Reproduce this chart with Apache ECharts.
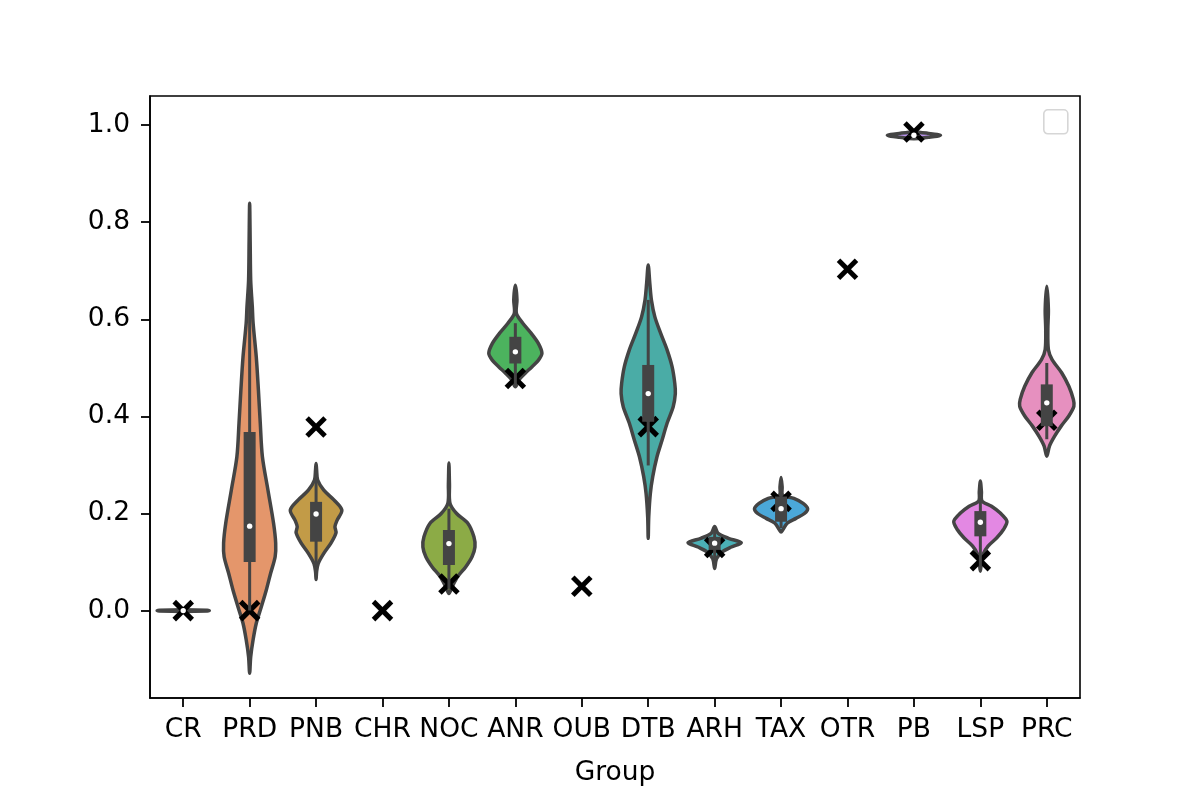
<!DOCTYPE html>
<html>
<head>
<meta charset="utf-8">
<title>violin</title>
<script src="https://cdn.jsdelivr.net/npm/echarts@6/dist/echarts.min.js"></script>
<style>
  html, body { margin: 0; padding: 0; background: #fff; }
  #chart { width: 1200px; height: 800px; }
</style>
</head>
<body>
<div id="chart"></div>
<script>
// categories
const groups = ['CR', 'PRD', 'PNB', 'CHR', 'NOC', 'ANR', 'OUB', 'DTB', 'ARH', 'TAX', 'OTR', 'PB', 'LSP', 'PRC']

// X markers (one per group)
const markerValues = [0.0, 0.0, 0.378, 0.0, 0.055, 0.478, 0.05, 0.379, 0.13, 0.225, 0.703, 0.986, 0.103, 0.392]

// inner box stats, null = no violin
const whiskerLow = [0, 0.0, 0.09, null, 0.045, 0.465, null, 0.299, 0.10, 0.17, null, 0.978, 0.085, 0.353]
const q1 = [0, 0.100, 0.142, null, 0.094, 0.509, null, 0.389, 0.125, 0.183, null, 0.9785, 0.153, 0.38]
const medians = [0, 0.174, 0.199, null, 0.138, 0.533, null, 0.447, 0.139, 0.210, null, 0.979, 0.182, 0.428]
const q3 = [0, 0.368, 0.224, null, 0.166, 0.564, null, 0.506, 0.152, 0.235, null, 0.9795, 0.205, 0.466]
const whiskerHigh = [0, 0.70, 0.27, null, 0.21, 0.592, null, 0.64, 0.165, 0.255, null, 0.981, 0.23, 0.51]

// violin outlines: [value, relative density]
const violinCR = [[-0.002, 0], [-0.001, 0.9], [0, 0.98], [0.001, 0.9], [0.002, 0]]
const violinPRD = [[-0.129, 0], [-0.095, 0.04], [-0.06, 0.13], [-0.026, 0.25], [0.008, 0.44], [0.043, 0.63], [0.077, 0.79], [0.111, 0.96], [0.139, 0.98], [0.18, 0.9], [0.248, 0.69], [0.317, 0.48], [0.386, 0.4], [0.454, 0.33], [0.522, 0.25], [0.592, 0.13], [0.626, 0.1], [0.68, 0.04], [0.76, 0.02], [0.839, 0]]
const violinPNB = [[0.064, 0], [0.08, 0.02], [0.097, 0.08], [0.118, 0.29], [0.139, 0.56], [0.16, 0.75], [0.173, 0.71], [0.186, 0.79], [0.207, 0.97], [0.228, 0.67], [0.248, 0.29], [0.269, 0.06], [0.29, 0.02], [0.303, 0]]
const violinNOC = [[0.035, 0], [0.049, 0.12], [0.07, 0.33], [0.09, 0.63], [0.111, 0.87], [0.131, 0.98], [0.152, 0.94], [0.18, 0.71], [0.2, 0.29], [0.221, 0.04], [0.26, 0.02], [0.304, 0]]
const violinANR = [[0.461, 0], [0.475, 0.13], [0.489, 0.37], [0.502, 0.62], [0.516, 0.87], [0.53, 1.0], [0.55, 0.87], [0.571, 0.6], [0.592, 0.28], [0.612, 0.04], [0.64, 0.06], [0.67, 0]]
const violinDTB = [[0.149, 0], [0.193, 0.02], [0.241, 0.08], [0.276, 0.17], [0.317, 0.33], [0.351, 0.52], [0.386, 0.71], [0.42, 0.94], [0.447, 1.02], [0.468, 1.0], [0.502, 0.9], [0.537, 0.71], [0.571, 0.47], [0.605, 0.25], [0.64, 0.12], [0.674, 0.06], [0.712, 0]]
const violinARH = [[0.087, 0], [0.107, 0.07], [0.121, 0.29], [0.131, 0.63], [0.14, 1.0], [0.149, 0.52], [0.159, 0.13], [0.173, 0]]
const violinTAX = [[0.162, 0], [0.166, 0.06], [0.18, 0.23], [0.19, 0.56], [0.2, 0.88], [0.21, 1.0], [0.221, 0.83], [0.231, 0.48], [0.238, 0.06], [0.255, 0.04], [0.274, 0]]
const violinPB = [[0.972, 0], [0.975, 0.55], [0.979, 1.0], [0.983, 0.55], [0.986, 0]]
const violinLSP = [[0.081, 0], [0.1, 0.04], [0.116, 0.1], [0.133, 0.29], [0.15, 0.62], [0.167, 0.87], [0.184, 1.0], [0.201, 0.75], [0.215, 0.42], [0.226, 0.06], [0.245, 0.04], [0.267, 0]]
const violinPRC = [[0.318, 0], [0.339, 0.1], [0.359, 0.29], [0.38, 0.54], [0.401, 0.83], [0.421, 1.02], [0.435, 1.0], [0.462, 0.83], [0.49, 0.56], [0.517, 0.2], [0.538, 0.06], [0.58, 0.04], [0.62, 0.06], [0.668, 0]]

const violins = [violinCR, violinPRD, violinPNB, null, violinNOC, violinANR, null, violinDTB, violinARH, violinTAX, null, violinPB, violinLSP, violinPRC]

// y tick labels
const yTicks = [0.0, 0.2, 0.4, 0.6, 0.8, 1.0]

const colors = ['#e3868f', '#e4966b', '#c29b47', '#a8a446', '#8cab46', '#4cb35e', '#4bb096', '#4aaca6', '#4bb0b6', '#4ba8d9', '#8e9fe6', '#b892ea', '#e388e3', '#e690bf']

const font = 'DejaVu Sans'
const dark = '#444444'

let myChart = echarts.init(document.getElementById('chart'), null, { renderer: 'canvas' })

let indexData = groups.map((g, i) => [i])

// violin body
function renderViolin(params, api) {
  let idx = api.value(0)
  let shape = violins[idx]
  if (!shape) return
  let bw = api.size([1, 0])[0]
  let cx = api.coord([idx, 0])[0]
  let right = shape.map(p => [cx + p[1] * 0.4 * bw, api.coord([idx, p[0]])[1]])
  let left = shape.slice().reverse().map(p => [cx - p[1] * 0.4 * bw, api.coord([idx, p[0]])[1]])
  return {
    type: 'polygon',
    shape: { points: right.concat(left.slice(1, -1)), smooth: 0.3 },
    style: { fill: colors[idx], stroke: dark, lineWidth: 3.5 }
  }
}

// X marker
function renderCross(params, api) {
  let idx = api.value(0)
  let p = api.coord([idx, markerValues[idx]])
  let a = 9
  let st = { stroke: '#000', lineWidth: 5 }
  return {
    type: 'group',
    children: [
      { type: 'line', shape: { x1: p[0] - a, y1: p[1] - a, x2: p[0] + a, y2: p[1] + a }, style: st },
      { type: 'line', shape: { x1: p[0] - a, y1: p[1] + a, x2: p[0] + a, y2: p[1] - a }, style: st }
    ]
  }
}

// inner box + median
function renderBox(params, api) {
  let idx = api.value(0)
  if (medians[idx] == null) return
  let cx = api.coord([idx, 0])[0]
  let yLo = api.coord([idx, whiskerLow[idx]])[1]
  let yHi = api.coord([idx, whiskerHigh[idx]])[1]
  let y1 = api.coord([idx, q1[idx]])[1]
  let y3 = api.coord([idx, q3[idx]])[1]
  let ym = api.coord([idx, medians[idx]])[1]
  return {
    type: 'group',
    children: [
      { type: 'line', shape: { x1: cx, y1: yLo, x2: cx, y2: yHi }, style: { stroke: dark, lineWidth: 3 } },
      { type: 'rect', shape: { x: cx - 6, y: y3, width: 12, height: Math.max(y1 - y3, 0.1) }, style: { fill: dark } },
      { type: 'circle', shape: { cx: cx, cy: ym, r: 2.7 }, style: { fill: '#fff' } }
    ]
  }
}

let option = {
  animation: false,
  backgroundColor: '#fff',
  grid: {
    left: 150, right: 120, top: 96, bottom: 102,
    show: true, borderColor: '#000', borderWidth: 1.6, backgroundColor: 'transparent'
  },
  xAxis: {
    type: 'category',
    data: groups,
    name: 'Group',
    nameLocation: 'middle',
    nameGap: 62,
    nameTextStyle: { fontSize: 26.5, color: '#000', fontFamily: font },
    axisLine: { show: true, onZero: false, lineStyle: { color: '#000', width: 1.6 } },
    axisTick: { show: true, alignWithLabel: true, length: 9, lineStyle: { color: '#000', width: 1.8 } },
    axisLabel: { interval: 0, hideOverlap: false, fontSize: 26.5, color: '#000', fontFamily: font, margin: 19 },
    splitLine: { show: false }
  },
  yAxis: {
    type: 'value',
    min: -0.18,
    max: 1.06,
    axisLine: { show: true, onZero: false, lineStyle: { color: '#000', width: 1.6 } },
    axisTick: { show: true, length: 9, customValues: yTicks, lineStyle: { color: '#000', width: 1.8 } },
    axisLabel: {
      customValues: yTicks,
      fontSize: 26.5, color: '#000', fontFamily: font, margin: 20,
      formatter: v => Number(v).toFixed(1)
    },
    splitLine: { show: false }
  },
  graphic: [{
    // empty legend frame, top right
    type: 'rect',
    left: 1043, top: 109,
    shape: { width: 24, height: 24, r: 4 },
    style: { fill: '#fff', stroke: '#d6d6d6', lineWidth: 1.6 }
  }],
  series: [
    { type: 'custom', name: 'violin', renderItem: renderViolin, data: indexData, z: 2 },
    { type: 'custom', name: 'marker', renderItem: renderCross, data: indexData, z: 3 },
    { type: 'custom', name: 'box', renderItem: renderBox, data: indexData, z: 4 }
  ]
}

myChart.setOption(option)
window.addEventListener('resize', function () {
  myChart.resize()
})
</script>
</body>
</html>
